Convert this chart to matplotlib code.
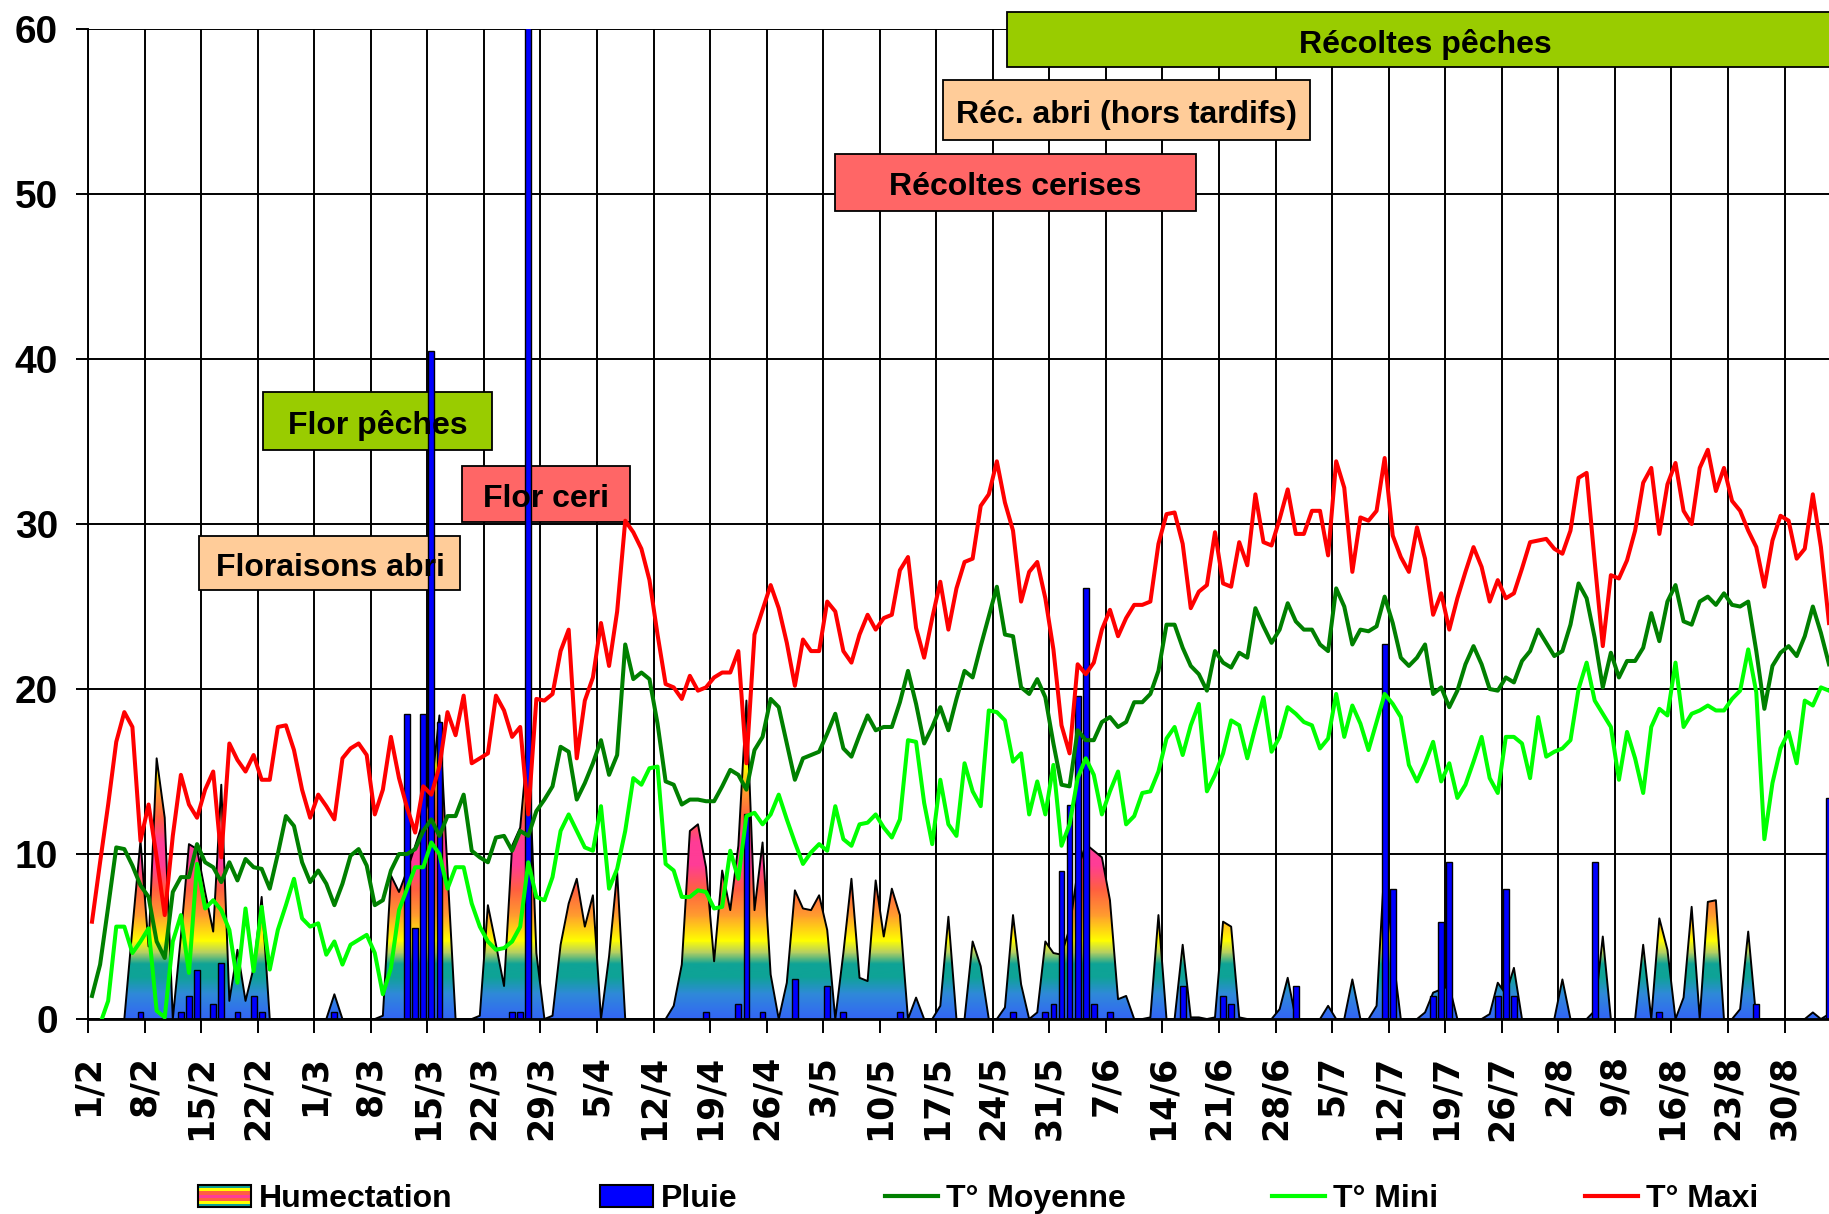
import numpy as np
import matplotlib
matplotlib.use("Agg")
import matplotlib.pyplot as plt
from matplotlib.colors import LinearSegmentedColormap
from matplotlib.patches import Rectangle, PathPatch
from matplotlib.lines import Line2D
from matplotlib.legend_handler import HandlerBase

# ---- data (one value per day, 1/2 -> 4/9) ----
t_maxi = [5.9, 9.5, 13.0, 16.8, 18.6, 17.7, 10.8, 13.0, 9.8, 6.3, 11.1, 14.8, 13.0, 12.2, 13.9, 15.0, 9.8, 16.7,
          15.7, 15.0, 16.0, 14.5, 14.5, 17.7, 17.8, 16.3, 13.9, 12.2, 13.6, 12.9, 12.1,
          15.8, 16.4, 16.7, 16.0, 12.4, 13.9, 17.1, 14.6, 12.8, 11.3, 14.1, 13.6, 15.3, 18.6, 17.2, 19.6, 15.5,
          15.8, 16.1, 19.6, 18.7, 17.1, 17.7, 12.4, 19.4, 19.3, 19.7, 22.3, 23.6, 15.8, 19.3,
          20.7, 24.0, 21.4, 24.7, 30.2, 29.5, 28.5, 26.6, 23.3, 20.3, 20.1, 19.4, 20.8, 19.9, 20.1, 20.7, 21.0,
          21.0, 22.3, 15.5, 23.3, 24.8, 26.3, 24.9, 22.8, 20.2, 23.0, 22.3, 22.3, 25.3, 24.7,
          22.3, 21.6, 23.3, 24.5, 23.6, 24.3, 24.5, 27.2, 28.0, 23.7, 21.9, 24.3, 26.5, 23.6, 26.1, 27.7, 27.9,
          31.1, 31.8, 33.8, 31.3, 29.6, 25.3, 27.1, 27.7, 25.5, 22.4, 17.8, 16.1, 21.5,
          20.9, 21.6, 23.6, 24.8, 23.2, 24.3, 25.1, 25.1, 25.3, 28.8, 30.6, 30.7, 28.8, 24.9, 25.9, 26.3, 29.5,
          26.4, 26.2, 28.9, 27.5, 31.8, 28.9, 28.7, 30.3, 32.1, 29.4, 29.4, 30.8, 30.8, 28.1,
          33.8, 32.2, 27.1, 30.4, 30.2, 30.8, 34.0, 29.3, 28.0, 27.1, 29.8, 27.9, 24.5, 25.8, 23.6, 25.5, 27.1,
          28.6, 27.4, 25.3, 26.6, 25.5, 25.8, 27.3, 28.9, 29.0, 29.1, 28.5, 28.2, 29.6, 32.8,
          33.1, 27.7, 22.6, 26.9, 26.7, 27.8, 29.6, 32.5, 33.4, 29.4, 32.4, 33.7, 30.8, 30.0, 33.4, 34.5, 32.0,
          33.4, 31.4, 30.8, 29.6, 28.6, 26.2, 29.0, 30.5, 30.2, 27.9, 28.5, 31.8, 28.6, 24.0]

t_moyenne = [1.4, 3.3, 6.8, 10.4, 10.3, 9.3, 8.1, 7.4, 4.7, 3.7, 7.7, 8.6, 8.6, 10.6, 9.5, 9.2, 8.3, 9.5,
             8.4, 9.7, 9.2, 9.1, 7.9, 10.0, 12.3, 11.7, 9.5, 8.3, 9.0, 8.2, 6.9,
             8.2, 9.9, 10.3, 9.3, 6.9, 7.2, 9.0, 10.0, 10.0, 10.3, 11.4, 12.1, 11.1, 12.3, 12.3, 13.6, 10.2,
             9.8, 9.5, 11.0, 11.1, 10.2, 11.4, 11.1, 12.6, 13.3, 14.1, 16.5, 16.2, 13.3, 14.3,
             15.5, 16.9, 14.8, 16.0, 22.7, 20.6, 21.0, 20.6, 17.9, 14.4, 14.2, 13.0, 13.3, 13.3, 13.2, 13.2, 14.1,
             15.1, 14.8, 13.9, 16.3, 17.1, 19.4, 18.9, 16.7, 14.5, 15.8, 16.0, 16.2, 17.3, 18.5,
             16.4, 15.9, 17.2, 18.4, 17.5, 17.7, 17.7, 19.2, 21.1, 19.1, 16.7, 17.7, 18.9, 17.5, 19.4, 21.1, 20.7,
             22.6, 24.4, 26.2, 23.3, 23.2, 20.1, 19.7, 20.6, 19.5, 16.7, 14.2, 14.1, 17.5,
             16.9, 16.9, 18.0, 18.3, 17.7, 18.0, 19.2, 19.2, 19.7, 21.1, 23.9, 23.9, 22.5, 21.4, 20.9, 19.9, 22.3,
             21.6, 21.3, 22.2, 21.9, 24.9, 23.8, 22.8, 23.6, 25.2, 24.1, 23.6, 23.6, 22.7, 22.3,
             26.1, 25.0, 22.7, 23.6, 23.5, 23.8, 25.6, 24.0, 21.9, 21.4, 21.9, 22.7, 19.7, 20.1, 18.9, 19.9, 21.5,
             22.6, 21.5, 20.0, 19.9, 20.7, 20.4, 21.7, 22.3, 23.6, 22.8, 22.0, 22.3, 23.9, 26.4,
             25.5, 23.1, 20.1, 22.2, 20.7, 21.7, 21.7, 22.5, 24.6, 22.9, 25.3, 26.3, 24.1, 23.9, 25.3, 25.6, 25.1,
             25.8, 25.1, 25.0, 25.3, 22.3, 18.8, 21.4, 22.2, 22.6, 22.0, 23.2, 25.0, 23.4, 21.5]

t_mini = [-1.5, -0.3, 1.1, 5.6, 5.6, 4.0, 4.7, 5.5, 0.5, 0.1, 4.7, 6.3, 2.8, 9.4, 6.7, 7.2, 6.6, 5.4,
          2.2, 6.7, 2.9, 6.8, 3.0, 5.4, 6.9, 8.5, 6.1, 5.6, 5.8, 3.9, 4.7,
          3.3, 4.5, 4.8, 5.1, 4.0, 1.5, 3.1, 6.6, 7.9, 9.2, 9.2, 10.7, 10.0, 7.9, 9.2, 9.2, 7.0,
          5.6, 4.7, 4.2, 4.3, 4.7, 5.6, 9.5, 7.4, 7.2, 8.6, 11.4, 12.4, 11.4, 10.4,
          10.2, 12.9, 7.9, 9.1, 11.4, 14.6, 14.2, 15.2, 15.3, 9.4, 9.0, 7.4, 7.4, 7.8, 7.7, 6.7, 6.8,
          10.2, 8.5, 12.3, 12.5, 11.8, 12.4, 13.6, 12.1, 10.7, 9.4, 10.1, 10.6, 10.2, 12.9,
          10.9, 10.5, 11.8, 11.9, 12.4, 11.6, 11.0, 12.1, 16.9, 16.8, 13.1, 10.6, 14.5, 11.8, 11.1, 15.5, 13.8,
          12.9, 18.7, 18.6, 18.1, 15.6, 16.1, 12.4, 14.4, 12.4, 15.4, 10.5, 11.8, 14.6,
          15.8, 14.8, 12.4, 13.8, 15.0, 11.8, 12.3, 13.7, 13.8, 15.0, 17.0, 17.7, 16.0, 17.8, 19.1, 13.8, 14.8,
          16.1, 18.1, 17.8, 15.8, 17.7, 19.5, 16.2, 17.1, 18.9, 18.5, 18.0, 17.8, 16.4, 17.0,
          19.7, 17.1, 19.0, 17.9, 16.3, 18.0, 19.7, 19.1, 18.3, 15.4, 14.4, 15.5, 16.8, 14.4, 15.5, 13.4, 14.2,
          15.6, 17.1, 14.6, 13.7, 17.1, 17.1, 16.7, 14.6, 18.3, 15.9, 16.2, 16.4, 16.9, 20.0,
          21.6, 19.3, 18.5, 17.7, 14.5, 17.4, 15.8, 13.7, 17.7, 18.8, 18.4, 21.6, 17.7, 18.5, 18.7, 19.0, 18.7,
          18.7, 19.4, 19.9, 22.4, 19.8, 10.9, 14.3, 16.4, 17.4, 15.5, 19.3, 19.0, 20.1, 19.9]

humectation = [0, 0, 0, 0, 0, 5.5, 10.8, 4.4, 15.8, 12.2, 0, 5.0, 10.6, 10.3, 7.7, 5.3, 14.2, 1.1,
               4.2, 1.1, 3.1, 7.4, 0, 0, 0, 0, 0, 0, 0, 0, 1.5,
               0, 0, 0, 0, 0, 0.2, 8.7, 7.7, 9.0, 10.5, 12.0, 14.0, 18.4, 9.0, 0, 0, 0,
               0.2, 6.9, 4.5, 2.0, 10.5, 11.6, 17.0, 4.0, 0, 0.2, 4.5, 7.0, 8.5, 5.6,
               7.5, 0, 3.8, 8.9, 0, 0, 0, 0, 0, 0, 0.8, 3.3, 11.4, 11.8, 9.2, 3.5, 9.0,
               6.6, 10.5, 19.3, 6.6, 10.7, 2.7, 0, 2.2, 7.8, 6.7, 6.6, 7.5, 5.4, 0,
               4.0, 8.5, 2.5, 2.3, 8.4, 5.0, 7.9, 6.3, 0, 1.3, 0, 0, 0.8, 6.2, 0, 0, 4.7,
               3.2, 0, 0, 0.7, 6.3, 2.1, 0, 0.4, 4.7, 4.0, 3.9, 5.5, 9.0,
               10.6, 10.2, 9.8, 7.2, 1.2, 1.4, 0, 0, 0.1, 6.3, 0, 0, 4.5, 0.1, 0.1, 0, 0.1,
               5.9, 5.6, 0.1, 0, 0, 0, 0, 0.6, 2.5, 0, 0, 0, 0, 0.8,
               0, 0, 2.4, 0, 0, 0.8, 9.5, 4.0, 0, 0, 0, 0.4, 1.6, 1.8, 2.0, 0, 0,
               0, 0, 0.3, 2.2, 1.5, 3.1, 0, 0, 0, 0, 0, 2.4, 0, 0,
               0, 0.5, 5.0, 0, 0, 0, 0, 4.5, 0, 6.1, 4.2, 0, 1.3, 6.8, 0, 7.1, 7.2,
               0, 0, 0.6, 5.3, 0, 0, 0, 0, 0, 0, 0, 0.4, 0, 0.3]

pluie_jours = [6, 11, 12, 13, 15, 16, 18, 20, 21, 30, 39, 40, 41, 42, 43, 52, 53, 54, 76, 80, 81, 83, 87, 91,
               93, 100, 114, 118, 119, 120, 121, 122, 123, 124, 126, 135, 140, 141, 149, 160, 161, 166, 167,
               168, 174, 175, 176, 186, 194, 206, 215]
pluie_mm = [0.4, 0.4, 1.4, 3.0, 0.9, 3.4, 0.4, 1.4, 0.4, 0.4, 18.5, 5.5, 18.5, 40.5, 18.0, 0.4, 0.4, 60.3,
            0.4, 0.9, 12.4, 0.4, 2.4, 2.0, 0.4, 0.4, 0.4, 0.4, 0.9, 9.0, 13.0, 19.6, 26.1, 0.9, 0.4, 2.0,
            1.4, 0.9, 2.0, 22.7, 7.9, 1.4, 5.9, 9.5, 1.4, 7.9, 1.4, 9.5, 0.4, 0.9, 13.4]

date_labels = ["1/2", "8/2", "15/2", "22/2", "1/3", "8/3", "15/3", "22/3", "29/3", "5/4", "12/4", "19/4",
               "26/4", "3/5", "10/5", "17/5", "24/5", "31/5", "7/6", "14/6", "21/6", "28/6", "5/7", "12/7",
               "19/7", "26/7", "2/8", "9/8", "16/8", "23/8", "30/8"]

# stage boxes: label, start day, end day, low, high, colour
stages = [("Récoltes pêches", 113.8, 217.2, 57.7, 61.05, "#99CC00"),
          ("Réc. abri (hors tardifs)", 105.8, 151.2, 53.3, 56.9, "#FFCC99"),
          ("Récoltes cerises", 92.5, 137.1, 49.0, 52.4, "#FF6666"),
          ("Flor pêches", 21.7, 50.0, 34.5, 38.0, "#99CC00"),
          ("Flor ceri", 46.3, 67.1, 30.1, 33.5, "#FF6666"),
          ("Floraisons abri", 13.8, 46.1, 26.0, 29.3, "#FFCC99")]

FONT = "Liberation Sans"

x = np.arange(len(t_maxi)) + 0.5
xmax = 215.5

fig = plt.figure(figsize=(18.29, 12.14), dpi=100)
ax = fig.add_axes([0.0481, 0.1606, 0.9519, 0.8155])

# humectation: area with vertical rainbow gradient
stops = [(0.0, "#3366F5"), (1.5, "#2F8AD8"), (2.5, "#0EA396"), (3.3, "#0EA396"), (4.0, "#B8D060"),
         (4.7, "#FFFF00"), (6.3, "#FF9A30"), (7.8, "#FF6040"), (9.3, "#FF3C96"), (10.7, "#FF3C96"),
         (12.2, "#FF6040"), (13.7, "#FF9A30"), (15.3, "#FFFF00"), (16.0, "#B8D060"), (16.7, "#0EA396"),
         (17.5, "#0EA396"), (18.5, "#2F8AD8"), (20.0, "#3366F5")]
cmap = LinearSegmentedColormap.from_list("hum", [(v / 20.0, c) for v, c in stops])
poly = ax.fill_between(x, 0, humectation, facecolor="none", edgecolor="none")
clip = PathPatch(poly.get_paths()[0], transform=ax.transData, facecolor="none", edgecolor="none")
ax.add_patch(clip)
grad = np.linspace(0, 1, 500).reshape(-1, 1)
im = ax.imshow(grad, cmap=cmap, extent=[0, xmax, 0, 20], origin="lower", aspect="auto", zorder=1)
im.set_clip_path(clip)
ax.plot(x, humectation, color="black", lw=1.4, zorder=1.5)

# stage boxes
for label, x0, x1, y0, y1, col in stages:
    ax.add_patch(Rectangle((x0, y0), x1 - x0, y1 - y0, facecolor=col, edgecolor="black",
                           lw=1.3, clip_on=False, zorder=1.8))
    ax.text((x0 + x1) / 2, (y0 + y1) / 2 - 0.3, label, ha="center", va="center", fontsize=23,
            fontweight="bold", family=FONT, zorder=4, clip_on=False)

# rain bars
ax.bar(np.array(pluie_jours) + 0.5, pluie_mm, width=0.72, color="#0000FF", edgecolor="black",
       lw=1.0, zorder=2)

ax.plot(x, t_moyenne, color="#008000", lw=2.9, zorder=3)
ax.plot(x, t_mini, color="#00FF00", lw=2.9, zorder=3)
ax.plot(x, t_maxi, color="#FF0000", lw=2.9, zorder=3)

ax.set_xlim(0, xmax)
ax.set_ylim(0, 60)
ax.set_xticks(np.arange(len(date_labels)) * 7)
ax.set_xticklabels(date_labels, rotation=90, fontsize=25, fontweight="bold", family="DejaVu Sans")
ax.set_yticks(np.arange(0, 61, 10))
ax.set_yticklabels([str(v) for v in range(0, 61, 10)], fontsize=28, fontweight="bold", family=FONT)
ax.tick_params(axis="x", direction="out", length=10, width=1.4, pad=16)
ax.tick_params(axis="y", direction="out", length=8.6, width=1.4, pad=13)
ax.grid(True, color="black", lw=1.4, zorder=0.5)
ax.set_axisbelow(True)
for s in ["top", "right"]:
    ax.spines[s].set_visible(False)
ax.spines["left"].set_linewidth(1.4)
ax.spines["bottom"].set_linewidth(2)


class HandlerStripes(HandlerBase):
    def create_artists(self, legend, orig, xd, yd, w, h, fontsize, trans):
        cols = ["#0EA396", "#FFFF00", "#FF6040", "#FF3C96", "#FF6040", "#FFFF00", "#0EA396"]
        arts = []
        n = len(cols)
        for i, c in enumerate(cols):
            arts.append(Rectangle((xd, yd + h * (n - 1 - i) / n), w, h / n, facecolor=c,
                                  edgecolor="none", transform=trans))
        arts.append(Rectangle((xd, yd), w, h, facecolor="none", edgecolor="black", lw=1.5, transform=trans))
        return arts


hum_handle = Rectangle((0, 0), 1, 1)
handles = [hum_handle,
           Rectangle((0, 0), 1, 1, facecolor="#0000FF", edgecolor="black", lw=1.5),
           Line2D([], [], color="#008000", lw=3),
           Line2D([], [], color="#00FF00", lw=3),
           Line2D([], [], color="#FF0000", lw=3)]
labels = ["Humectation", "Pluie", "T° Moyenne", "T° Mini", "T° Maxi"]
leg = fig.legend(handles, labels, loc="center", bbox_to_anchor=(0.535, 0.012), ncol=5, frameon=False,
                 prop={"family": FONT, "weight": "bold", "size": 23}, handlelength=1.66,
                 handleheight=0.7, handletextpad=0.25, columnspacing=4.6, borderpad=0,
                 handler_map={hum_handle: HandlerStripes()})

fig.savefig("out.png", dpi=100)
